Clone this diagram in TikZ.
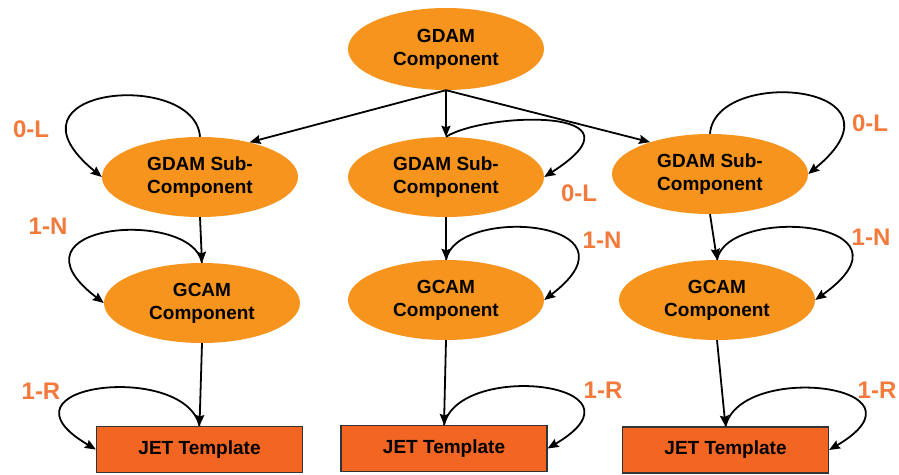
\documentclass[tikz,border=0pt]{standalone}
\usepackage{fontspec}
\setmainfont{Liberation Sans}
\usetikzlibrary{shapes.geometric,arrows.meta}
\definecolor{ellorange}{RGB}{247,148,29}
\definecolor{jetorange}{RGB}{242,101,34}
\definecolor{lblorange}{RGB}{244,122,60}
\begin{document}
\begin{tikzpicture}[x=1pt,y=-1pt,
  comp/.style={ellipse, fill=ellorange, minimum width=196pt, minimum height=80pt, inner sep=0pt, align=center, font=\fontsize{19}{23}\selectfont\bfseries},
  jet/.style={rectangle, fill=jetorange, draw=black!80, line width=1.2pt, minimum width=206pt, minimum height=46pt, inner sep=0pt, font=\fontsize{19}{23}\selectfont\bfseries},
  lbl/.style={text=lblorange, font=\fontsize{24}{24}\selectfont\bfseries, inner sep=0pt},
  conn/.style={draw=black, line width=1.8pt, -{Stealth[length=11pt,width=9pt,inset=1.5pt]}}
]
\useasboundingbox (0,0) rectangle (899,474);
\fill[white] (0,0) rectangle (899,474);

\node[comp, minimum height=82pt] (top) at (446,49) {GDAM\\Component};
\node[comp] (ls) at (200,177) {GDAM Sub-\\Component};
\node[comp] (ms) at (446,177) {GDAM Sub-\\Component};
\node[comp] (rs) at (710,174) {GDAM Sub-\\Component};
\node[comp] (lg) at (202,303) {GCAM\\Component};
\node[comp] (mg) at (446,300) {GCAM\\Component};
\node[comp] (rg) at (717,300) {GCAM\\Component};
\node[jet] (lj) at (199.5,449.5) {JET Template};
\node[jet] (mj) at (444,448.5) {JET Template};
\node[jet] (rj) at (725.5,450) {JET Template};

\draw[conn] (top.south) -- (ls.35);
\draw[conn] (top.south) -- (ms.north);
\draw[conn] (top.south) -- (rs.152);
\draw[conn] (ls.south) -- (lg.north);
\draw[conn] (ms.south) -- (mg.north);
\draw[conn] (rs.south) -- (rg.north);
\draw[conn] (lg.south) -- (lj.north);
\draw[conn] (mg.south) -- (mj.north);
\draw[conn] (rg.south) -- (rj.north);

\draw[conn] (ls.north) .. controls +(-5,-68) and +(-110,-90) .. (ls.west);
\draw[conn] (ms.north) .. controls +(40,-25) and +(110,-70) .. (ms.east);
\draw[conn] (rs.north) .. controls +(5,-68) and +(110,-90) .. (rs.east);
\draw[conn] (lg.north) .. controls +(-10,-55) and +(-105,-80) .. (lg.west);
\draw[conn] (mg.north) .. controls +(10,-55) and +(105,-80) .. (mg.east);
\draw[conn] (rg.north) .. controls +(10,-55) and +(112,-80) .. (rg.east);
\draw[conn] (lj.north) .. controls +(-15,-65) and +(-110,-65) .. (lj.west);
\draw[conn] (mj.north) .. controls +(15,-65) and +(110,-65) .. (mj.east);
\draw[conn] (rj.north) .. controls +(15,-65) and +(110,-65) .. (rj.east);

\node[lbl] (l1) at (31,129) {0-L};
\node[lbl] (l2) at (579,193) {0-L};
\node[lbl] (l3) at (870,123) {0-L};
\node[lbl] (l4) at (48,226) {1-N};
\node[lbl] (l5) at (602,240) {1-N};
\node[lbl] (l6) at (871,237) {1-N};
\node[lbl] (l7) at (41,391) {1-R};
\node[lbl] (l8) at (603,390) {1-R};
\node[lbl] (l9) at (877,390) {1-R};
\end{tikzpicture}
\end{document}
